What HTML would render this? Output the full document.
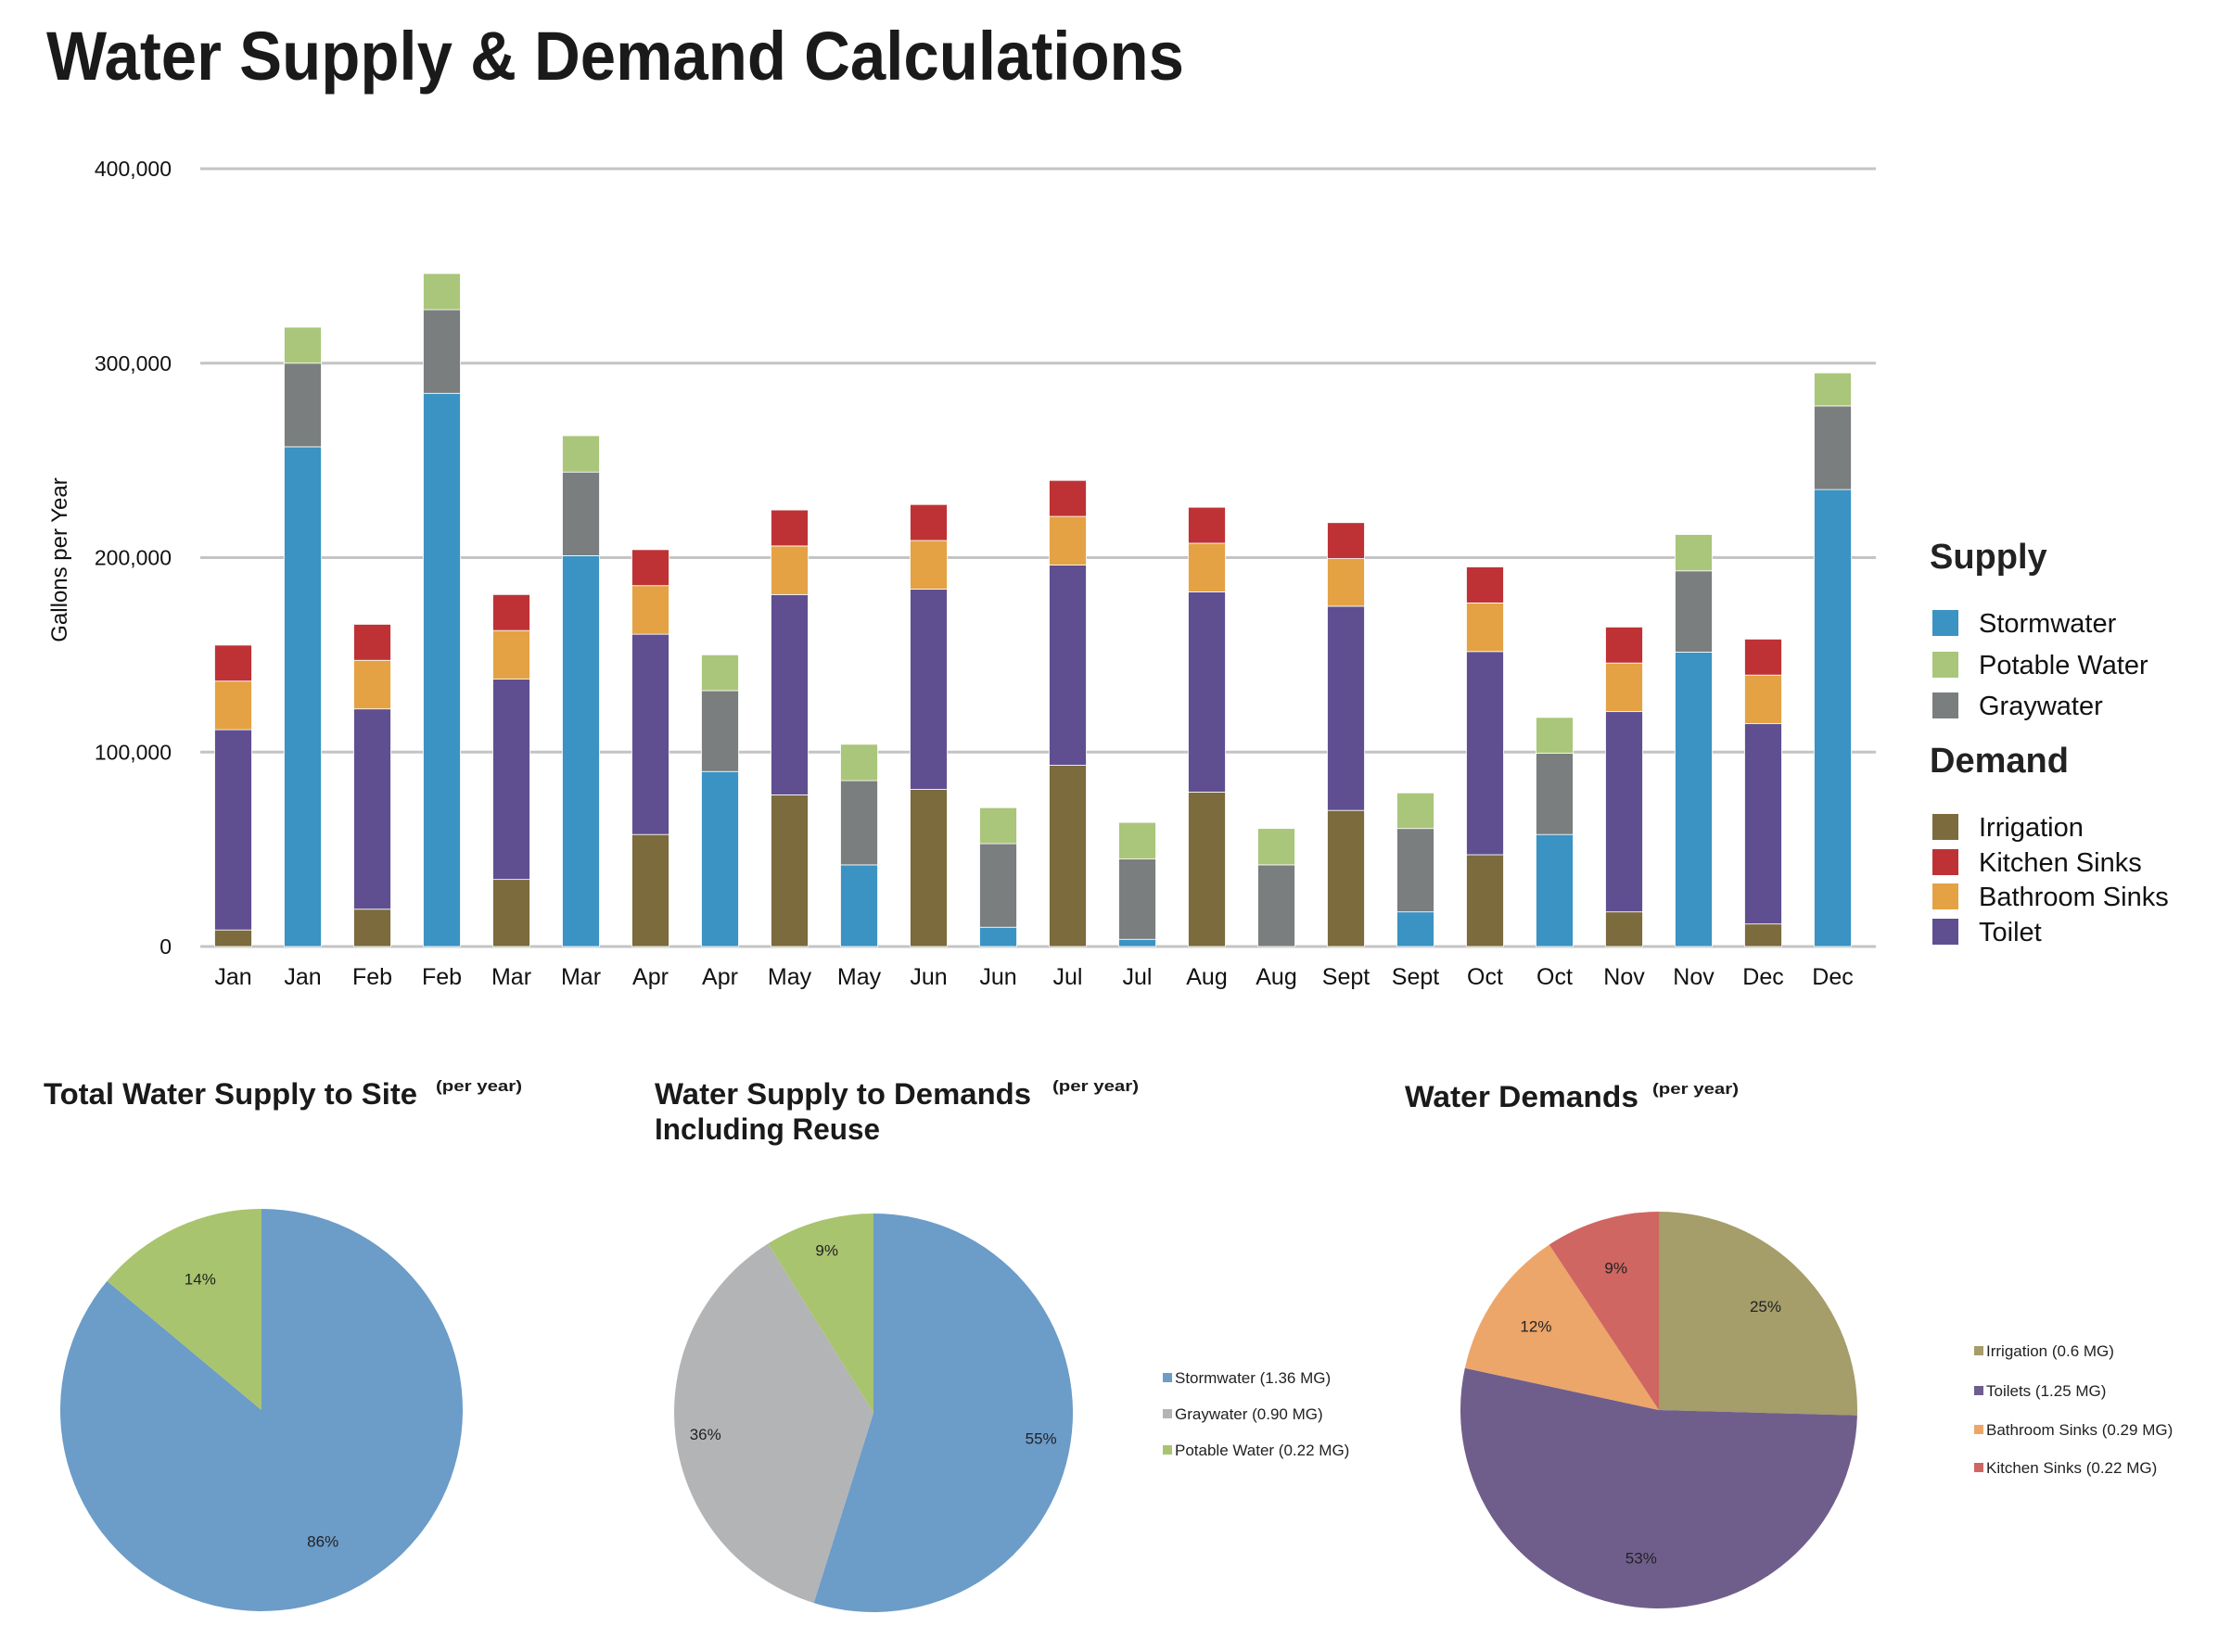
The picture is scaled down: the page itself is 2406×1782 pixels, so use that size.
<!DOCTYPE html>
<html><head><meta charset="utf-8"><style>
html,body{margin:0;padding:0;background:#fff;}
svg{display:block;font-family:"Liberation Sans",sans-serif;}
</style></head><body>
<svg id="root" width="2406" height="1782" viewBox="0 0 2406 1782">
<text x="50" y="86" font-size="74" font-weight="bold" fill="#1a1a1a" textLength="1227" lengthAdjust="spacingAndGlyphs">Water Supply &amp; Demand Calculations</text>
<g id="bar"></g>
<text transform="translate(72,604) rotate(-90)" text-anchor="middle" font-size="24" fill="#111">Gallons per Year</text>
<g id="legend"></g>
<g id="pies"></g>
</svg>
<script>
const NS='http://www.w3.org/2000/svg';
const months=['Jan','Jan','Feb','Feb','Mar','Mar','Apr','Apr','May','May','Jun','Jun','Jul','Jul','Aug','Aug','Sept','Sept','Oct','Oct','Nov','Nov','Dec','Dec'];
const yTicks=[0,100000,200000,300000,400000];
const yTickLabels=['0','100,000','200,000','300,000','400,000'];
// values in thousands of gallons; demand bars at even indices, supply at odd
const irrigation=[8.5,0,19.2,0,34.5,0,57.6,0,78,0,80.8,0,93.2,0,79.4,0,70,0,47.2,0,17.8,0,11.6,0];
const toilet=[103,0,103,0,103,0,103,0,103,0,103,0,103,0,103,0,105,0,104.5,0,103,0,103,0];
const bathroom=[25,0,25,0,25,0,25,0,25,0,25,0,25,0,25,0,24.5,0,25,0,25,0,25,0];
const kitchen=[18.5,0,18.5,0,18.5,0,18.5,0,18.5,0,18.5,0,18.5,0,18.5,0,18.5,0,18.5,0,18.5,0,18.5,0];
const stormwater=[0,257,0,284.5,0,201,0,90,0,42,0,9.9,0,3.7,0,0,0,17.8,0,57.6,0,151.4,0,235];
const graywater=[0,43,0,43,0,43,0,41.6,0,43.3,0,43,0,41.3,0,42,0,42.9,0,41.8,0,41.8,0,43];
const potable=[0,18.5,0,18.6,0,18.7,0,18.4,0,18.7,0,18.5,0,18.8,0,18.7,0,18.3,0,18.4,0,18.7,0,17];

const pie1Labels=['Stormwater','Potable Water'];
const pie1Values=[1.36,0.22];
const pie2Labels=['Stormwater (1.36 MG)','Graywater (0.90 MG)','Potable Water (0.22 MG)'];
const pie2Values=[1.36,0.90,0.22];
const pie3Labels=['Irrigation (0.6 MG)','Toilets (1.25 MG)','Bathroom Sinks (0.29 MG)','Kitchen Sinks (0.22 MG)'];
const pie3Values=[0.6,1.25,0.29,0.22];

function mk(tag,attrs,parent,txt){const e=document.createElementNS(NS,tag);for(const k in attrs)e.setAttribute(k,attrs[k]);if(txt!==undefined)e.textContent=txt;parent.appendChild(e);return e;}
const X0=216,X1=2016,Y0=1021,YTOP=182;
const yScale=v=>Y0-(v/400000)*(Y0-YTOP);
const band=(X1-X0)/months.length;
const xCenter=i=>X0+band*(i+0.5)-2;
const bar=document.getElementById('bar');
yTicks.forEach((t,i)=>{
  const g=mk('line',{x1:X0,x2:X1+7,y1:yScale(t),y2:yScale(t),stroke:'#c4c4c4','stroke-width':3},bar);
  
  
  const tl=mk('text',{x:185,y:yScale(t)+8,'text-anchor':'end','font-size':23,fill:'#111'},bar,yTickLabels[i]);
  
  
});
const series=[
 ['irrigation',irrigation,'#7b6b3d'],['toilet',toilet,'#5f4f91'],['bathroom-sinks',bathroom,'#e4a244'],['kitchen-sinks',kitchen,'#be3236'],
 ['stormwater',stormwater,'#3a93c3'],['graywater',graywater,'#7a7e7e'],['potable-water',potable,'#a9c67a']];
const bw=40;
months.forEach((m,i)=>{
  let base=0;
  series.forEach(([name,arr,col])=>{
    const v=arr[i]*1000; if(!v) return;
    const yt=yScale(base+v), yb=yScale(base);
    const r=mk('rect',{x:xCenter(i)-bw/2,y:yt,width:bw,height:yb-yt,fill:col,stroke:'#fff','stroke-width':0.8},bar);
    
    
    base+=v;
  });
  const lb=mk('text',{x:xCenter(i),y:1062,'text-anchor':'middle','font-size':25,fill:'#111'},bar,m);
  
  
});
// legend
const lg=document.getElementById('legend');
function head(t,y){const e=mk('text',{x:2081,y:y,'font-size':38,'font-weight':'bold',fill:'#222'},lg,t);
 
 }
head('Supply',613);head('Demand',833);
const legItems=[['Stormwater','#3a93c3',672],['Potable Water','#a9c67a',717],['Graywater','#7a7e7e',761],
 ['Irrigation','#7b6b3d',892],['Kitchen Sinks','#be3236',930],['Bathroom Sinks','#e4a244',967],['Toilet','#5f4f91',1005]];
legItems.forEach(([t,c,y])=>{
  const s=mk('rect',{x:2084,y:y-14,width:28,height:28,fill:c},lg);
  
  
  const e=mk('text',{x:2134,y:y+10,'font-size':29,fill:'#111'},lg,t);
  
  
});
// pies
const pg=document.getElementById('pies');
function title(x,y,t,w,px,pw){
  const e=mk('text',{x:x,y:y,'font-size':32,'font-weight':'bold',fill:'#1a1a1a',textLength:w,lengthAdjust:'spacingAndGlyphs'},pg,t);
  
  
  if(px){const p=mk('text',{x:px,y:y-14,'font-size':17,'font-weight':'bold',fill:'#1a1a1a',textLength:pw,lengthAdjust:'spacingAndGlyphs'},pg,'(per year)');
  
  }
}
title(50,1197,'Total Water Supply to Site',403,473,93);
title(709,1197,'Water Supply to Demands',406,1138,93);
title(709,1235,'Including Reuse',243);
title(1518,1200,'Water Demands',252,1785,93);
function pie(cx,cy,r,vals,cols,labelPos,name){
  const tot=vals.reduce((a,b)=>a+b,0);let a0=-Math.PI/2;
  vals.forEach((v,i)=>{
    const a1=a0+v/tot*2*Math.PI;
    const x0=cx+r*Math.cos(a0),y0=cy+r*Math.sin(a0),x1=cx+r*Math.cos(a1),y1=cy+r*Math.sin(a1);
    const large=(a1-a0)>Math.PI?1:0;
    const p=mk('path',{d:`M${cx},${cy}L${x0},${y0}A${r},${r} 0 ${large} 1 ${x1},${y1}Z`,fill:cols[i]},pg);
    
    
    const am=(a0+a1)/2, lr=r*labelPos;
    const pct=Math.round(v/tot*100)+'%';
    const t=mk('text',{x:cx+lr*Math.cos(am),y:cy+lr*Math.sin(am)+6,'text-anchor':'middle','font-size':17,fill:'#222'},pg,pct);
    
    
    a0=a1;
  });
}
pie(285,1527,217,pie1Values,['#6c9cc8','#a9c46e'],0.72,'pie-supply-site');
pie(945,1530,215,pie2Values,['#6c9cc8','#b3b4b5','#a9c46e'],0.85,'pie-supply-demands');
pie(1792,1527,214,pie3Values,['#a59d6a','#6f5e8b','#eca66a','#cf6661'],0.75,'pie-demands');
function plegend(x,ys,labels,cols){
  labels.forEach((l,i)=>{
    const s=mk('rect',{x:x,y:ys[i]-6,width:10,height:10,fill:cols[i]},pg);
    
    
    const t=mk('text',{x:x+13,y:ys[i]+5,'font-size':17,fill:'#222'},pg,l);
    
    
  });
}
plegend(1257,[1493,1532,1571],pie2Labels,['#6c9cc8','#b3b4b5','#a9c46e']);
plegend(2132,[1464,1507,1549,1590],pie3Labels,['#a59d6a','#6f5e8b','#eca66a','#cf6661']);
// nudge pies up to match reference placement
pg.querySelectorAll('path,text').forEach(()=>{});
pg.setAttribute('transform','translate(-3,-6)');
</script>
</body></html>
